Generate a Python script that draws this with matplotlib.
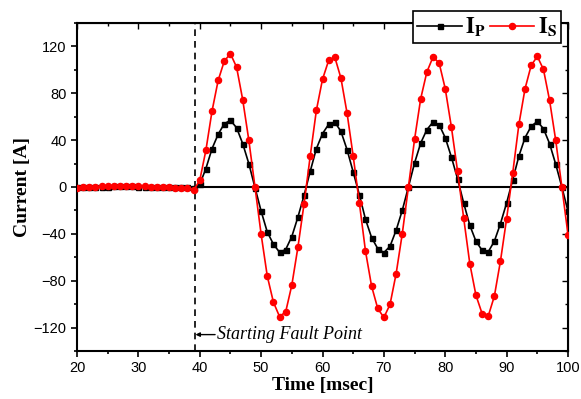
import matplotlib
matplotlib.use("Agg")
import matplotlib.pyplot as plt
from matplotlib.ticker import MultipleLocator

# time axis (msec), one sample per msec
time_ms = list(range(20, 101))

# secondary current I_S (red)
i_s = [-0.5, -0.4, -0.2, 0.2, 0.5, 0.8, 1.0, 1.2, 1.2, 1.1,
       0.9, 0.7, 0.4, 0.1, -0.2, -0.4, -0.5, -0.6, -0.6, -2.8,
       5.7, 31.3, 64.8, 91.0, 107.5, 113.8, 102.3, 74.5, 39.8, 0.0,
       -40.4, -76.0, -98.3, -110.6, -106.6, -83.8, -51.2, -14.2, 26.4, 65.4,
       91.9, 108.0, 110.9, 93.0, 63.1, 26.4, -13.3, -54.6, -84.7, -103.7,
       -111.4, -100.3, -73.9, -39.8, 0.0, 40.7, 75.4, 98.1, 110.9, 106.0,
       83.9, 51.2, 13.7, -26.4, -65.4, -92.4, -108.0, -110.3, -93.2, -63.1,
       -27.0, 12.2, 53.5, 83.9, 103.8, 111.5, 100.4, 73.9, 39.8, 0.0,
       -40.6]

# primary current I_P (black)
i_p = [-0.3, -0.2, -0.1, 0.1, 0.3, 0.4, 0.5, 0.6, 0.6, 0.5,
       0.4, 0.3, 0.2, 0.0, -0.1, -0.2, -0.3, -0.3, -0.3, -0.5,
       2.3, 15.7, 32.7, 45.0, 54.0, 56.9, 50.6, 37.0, 19.9, -0.5,
       -20.6, -38.4, -48.8, -55.7, -53.4, -42.3, -25.6, -7.1, 13.4, 32.7,
       45.5, 53.5, 55.4, 47.5, 31.9, 12.8, -6.5, -27.5, -43.2, -52.6,
       -56.0, -50.6, -36.9, -19.9, 0.0, 20.5, 37.5, 48.9, 55.4, 53.2,
       42.1, 25.6, 7.1, -13.6, -32.7, -46.3, -54.0, -55.4, -46.3, -31.2,
       -13.6, 6.3, 26.4, 42.1, 51.8, 56.0, 49.8, 37.0, 19.4, 0.0,
       -20.7]

fault_t = 39.3

plt.rcParams["mathtext.fontset"] = "stix"

fig = plt.figure(figsize=(5.81, 3.99), dpi=100)
ax = fig.add_axes([77 / 581, 1 - 351 / 399, 491 / 581, 328 / 399])

ax.axhline(0, color="black", lw=1.5, zorder=1)
ax.axvline(fault_t, color="black", lw=1.2, ls=(0, (4, 3)), zorder=1)

ax.plot(time_ms, i_p, color="black", lw=1.2, marker="s", ms=3.6,
        label=r"$\mathbf{I}_\mathbf{P}$", zorder=3)
ax.plot(time_ms, i_s, color="red", lw=1.2, marker="o", ms=4.4,
        label=r"$\mathbf{I}_\mathbf{S}$", zorder=4)

ax.set_xlim(20, 100)
ax.set_ylim(-140, 140)
ax.xaxis.set_major_locator(MultipleLocator(10))
ax.xaxis.set_minor_locator(MultipleLocator(5))
ax.yaxis.set_major_locator(MultipleLocator(40))
ax.yaxis.set_minor_locator(MultipleLocator(20))

for s in ax.spines.values():
    s.set_linewidth(1.5)

ax.tick_params(which="both", direction="out", top=False, right=False,
               labelsize=10.5, width=1.2)
ax.tick_params(which="major", length=4)
ax.tick_params(which="minor", length=2.5)
for lab in ax.get_xticklabels() + ax.get_yticklabels():
    lab.set_family("Liberation Sans")

# mirrored inward ticks on top and right
ax_top = ax.secondary_xaxis("top")
ax_top.xaxis.set_major_locator(MultipleLocator(10))
ax_top.xaxis.set_minor_locator(MultipleLocator(5))
ax_top.tick_params(which="both", direction="in", labeltop=False, width=1.0)
ax_top.tick_params(which="major", length=4)
ax_top.tick_params(which="minor", length=2.5)
ax_right = ax.secondary_yaxis("right")
ax_right.yaxis.set_major_locator(MultipleLocator(40))
ax_right.yaxis.set_minor_locator(MultipleLocator(20))
ax_right.tick_params(which="both", direction="in", labelright=False, width=1.0)
ax_right.tick_params(which="major", length=4)
ax_right.tick_params(which="minor", length=2.5)

ax.set_xlabel("Time [msec]", family="Liberation Serif", fontweight="bold",
              fontsize=14, labelpad=1)
ax.set_ylabel("Current [A]", family="Liberation Serif", fontweight="bold",
              fontsize=14, labelpad=2)

ax.annotate("", xy=(fault_t, -126), xytext=(fault_t + 3.2, -126),
            arrowprops=dict(arrowstyle="-|>", color="black", lw=1.0,
                            mutation_scale=6, shrinkA=0, shrinkB=0))
ax.text(fault_t + 3.5, -126, "Starting Fault Point", family="Liberation Serif",
        style="italic", fontsize=13, va="center", ha="left")

leg = ax.legend(loc="upper right", bbox_to_anchor=(561 / 581, 1 - 11 / 399),
                bbox_transform=fig.transFigure, ncol=2, fontsize=16,
                frameon=True, fancybox=False, framealpha=1, edgecolor="black",
                handlelength=2.0, handletextpad=0.15, columnspacing=0.2,
                borderpad=0.2, borderaxespad=0)
leg.get_frame().set_linewidth(1.2)
leg.set_zorder(10)

fig.savefig("out.png", dpi=100)
